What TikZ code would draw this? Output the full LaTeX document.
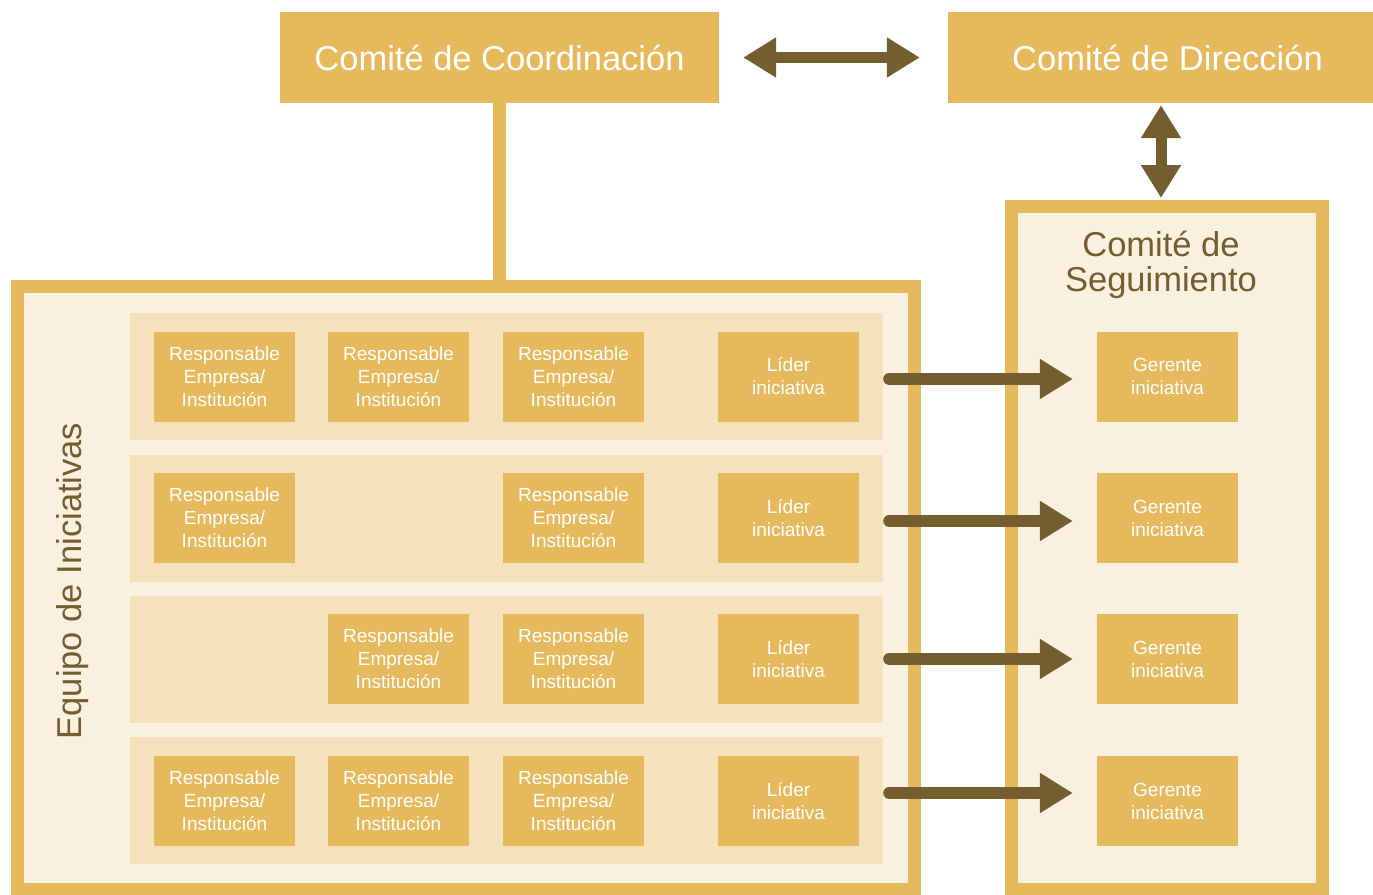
\documentclass[tikz,border=0pt]{standalone}
\usepackage{fontspec}
\setmainfont{Liberation Sans}
\usetikzlibrary{arrows.meta}
\definecolor{gold}{HTML}{E5B95C}
\definecolor{lightf}{HTML}{F9F0DF}
\definecolor{bandf}{HTML}{F4E2BC}
\definecolor{brownc}{HTML}{745D2F}
\tikzset{
  topbox/.style={fill=gold, text=white, minimum width=#1, minimum height=91pt, inner sep=0pt, font=\fontsize{34.5}{40}\selectfont},
  frame/.style={draw=gold, line width=13pt, fill=lightf, inner sep=0pt},
  bandbox/.style={fill=bandf, minimum width=753pt, minimum height=127pt, inner sep=0pt},
  smallbox/.style={fill=gold, text=white, minimum width=141pt, minimum height=90pt, inner sep=0pt, align=center, font=\fontsize{19}{23}\selectfont},
  fatarrow/.style={draw=brownc, line width=11pt, -{Triangle[length=33pt,width=38pt]}},
  sidearrow/.style={draw=brownc, line width=12pt, line cap=round, -{Triangle[length=33pt,width=38pt]}},
  titletext/.style={text=brownc, font=\fontsize{34.5}{35}\selectfont, align=center}
}
\begin{document}
\begin{tikzpicture}[x=1pt,y=-1pt]
\useasboundingbox (0,0) rectangle (1373,894);
% top committees
\node[topbox=439pt] (coord) at (499.5,57.5) {Comité de Coordinación};
\node[topbox=439pt] (dir) at (1167.5,57.5) {Comité de Dirección};
% frames
\node[frame, minimum width=897pt, minimum height=603pt] (equipo) at (466,588) {};
\node[frame, minimum width=311pt, minimum height=683pt] (seg) at (1167,548) {};
% connector coordination - equipo
\draw[gold, line width=13pt] (coord.south) -- (coord.south |- equipo.north);
% arrows between committees
\draw[fatarrow, {Triangle[length=33pt,width=38pt]}-{Triangle[length=33pt,width=38pt]}, shorten <=24pt, shorten >=28pt] (coord.east) -- (dir.west);
\coordinate (dirb) at ([xshift=-6.5pt]dir.south);
\draw[fatarrow, {Triangle[length=33pt,width=38pt]}-{Triangle[length=33pt,width=38pt]}, shorten <=2pt, shorten >=2pt] (dirb) -- (dirb |- seg.north);
% titles
\node[titletext] (segt) at (1161,265) {Comité de\\Seguimiento};
\node[titletext, rotate=90] (eqt) at (73,581) {Equipo de Iniciativas};
% bands
\node[bandbox] (b1) at (506.5,376.5) {};
\node[bandbox] (b2) at (506.5,518.5) {};
\node[bandbox] (b3) at (506.5,659.5) {};
\node[bandbox] (b4) at (506.5,800.5) {};
% row 1
\node[smallbox] (r1a) at (224.5,376.5) {Responsable\\Empresa/\\Institución};
\node[smallbox] (r1b) at (398.5,376.5) {Responsable\\Empresa/\\Institución};
\node[smallbox] (r1c) at (573.5,376.5) {Responsable\\Empresa/\\Institución};
\node[smallbox] (l1) at (788.5,376.5) {Líder\\iniciativa};
\node[smallbox] (g1) at (1167.5,376.5) {Gerente\\iniciativa};
% row 2
\node[smallbox] (r2a) at (224.5,518) {Responsable\\Empresa/\\Institución};
\node[smallbox] (r2c) at (573.5,518) {Responsable\\Empresa/\\Institución};
\node[smallbox] (l2) at (788.5,518) {Líder\\iniciativa};
\node[smallbox] (g2) at (1167.5,518) {Gerente\\iniciativa};
% row 3
\node[smallbox] (r3b) at (398.5,659) {Responsable\\Empresa/\\Institución};
\node[smallbox] (r3c) at (573.5,659) {Responsable\\Empresa/\\Institución};
\node[smallbox] (l3) at (788.5,659) {Líder\\iniciativa};
\node[smallbox] (g3) at (1167.5,659) {Gerente\\iniciativa};
% row 4
\node[smallbox] (r4a) at (224.5,801) {Responsable\\Empresa/\\Institución};
\node[smallbox] (r4b) at (398.5,801) {Responsable\\Empresa/\\Institución};
\node[smallbox] (r4c) at (573.5,801) {Responsable\\Empresa/\\Institución};
\node[smallbox] (l4) at (788.5,801) {Líder\\iniciativa};
\node[smallbox] (g4) at (1167.5,801) {Gerente\\iniciativa};
% side arrows
\draw[sidearrow, shorten <=30pt, shorten >=24pt] ([yshift=-2.5pt]l1.east) -- ([yshift=-2.5pt]g1.west);
\draw[sidearrow, shorten <=30pt, shorten >=24pt] ([yshift=-3pt]l2.east) -- ([yshift=-3pt]g2.west);
\draw[sidearrow, shorten <=30pt, shorten >=24pt] (l3.east) -- (g3.west);
\draw[sidearrow, shorten <=30pt, shorten >=24pt] ([yshift=8pt]l4.east) -- ([yshift=8pt]g4.west);
\end{tikzpicture}
\end{document}
